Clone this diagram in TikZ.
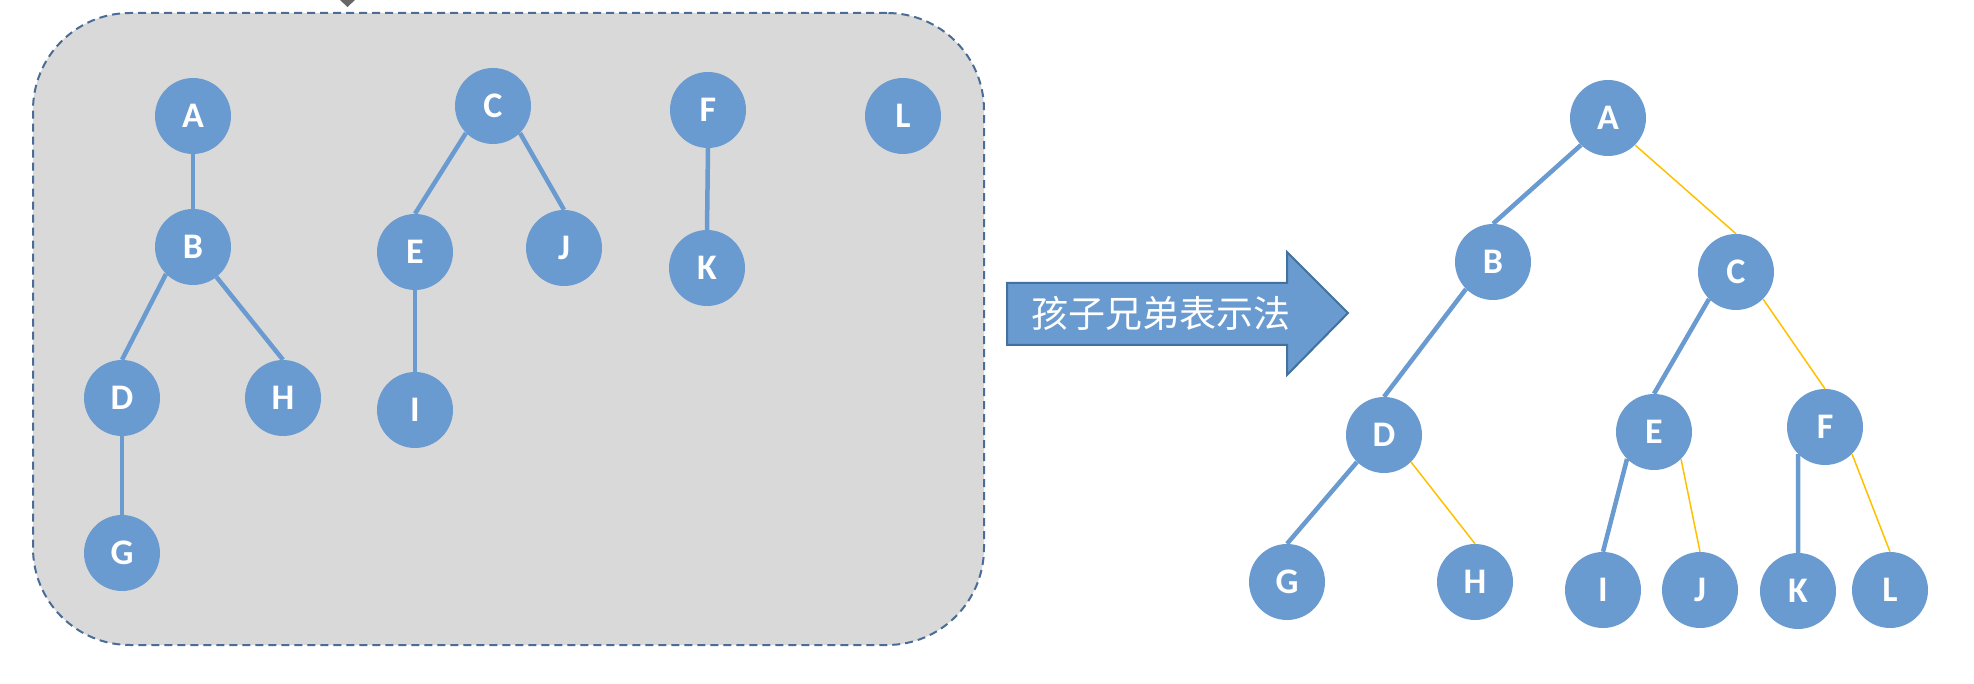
\documentclass[tikz,border=0pt]{standalone}
\usepackage{fontspec}
\setmainfont{Carlito}
\newfontfamily\cjk{Noto Sans CJK SC}
\definecolor{nodeblue}{HTML}{6A9BD0}
\definecolor{edgeblue}{HTML}{6A9BD0}
\definecolor{edgeyellow}{HTML}{FFC000}
\definecolor{panelgray}{HTML}{D9D9D9}
\definecolor{paneledge}{HTML}{4A6C96}
\definecolor{arrowedge}{HTML}{41719C}
\begin{document}
\begin{tikzpicture}[x=1pt,y=-1pt,
  tn/.style={circle, fill=nodeblue, minimum size=76pt, inner sep=0pt, text=white,
    font=\fontsize{36}{36}\selectfont\bfseries},
  be/.style={draw=edgeblue, line width=4.5pt},
  ye/.style={draw=edgeyellow, line width=1.5pt},
  panelbox/.style={draw=paneledge, fill=panelgray, line width=2pt, dash pattern=on 8pt off 5pt,
    rounded corners=97pt, minimum width=951pt, minimum height=632pt, inner sep=0pt},
  bigarrow/.style={fill=nodeblue, draw=arrowedge, line width=2pt, line join=miter}
]
\useasboundingbox (0,0) rectangle (1974,684);
% small marker at top
\fill[gray!80!black] (340,0) -- (355,0) -- (347.5,7) -- cycle;
% panel
\node[panelbox] (panel) at (508.5,329) {};
% left forest (edges first, nodes on top)
\coordinate (cA) at (193,116);
\coordinate (cB) at (193,247);
\coordinate (cD) at (122,398);
\coordinate (cH) at (283,398);
\coordinate (cG) at (122,553);
\coordinate (cC) at (493,106);
\coordinate (cE) at (415,252);
\coordinate (cJ) at (564,248);
\coordinate (cI) at (415,410);
\coordinate (cF) at (708,110);
\coordinate (cK) at (707,268);
\coordinate (cL) at (903,116);
\node[tn] (lA) at (cA) {A};
\node[tn] (lB) at (cB) {B};
\node[tn] (lD) at (cD) {D};
\node[tn] (lH) at (cH) {H};
\node[tn] (lG) at (cG) {G};
\node[tn] (lC) at (cC) {C};
\node[tn] (lE) at (cE) {E};
\node[tn] (lJ) at (cJ) {J};
\node[tn] (lI) at (cI) {I};
\node[tn] (lF) at (cF) {F};
\node[tn] (lK) at (cK) {K};
\node[tn] (lL) at (cL) {L};
\draw[be] (lA.south) -- (lB.north);
\draw[be] (lB.south west) -- (lD.north);
\draw[be] (lB.-52) -- (lH.north);
\draw[be] (lD.south) -- (lG.north);
\draw[be] (lC.south west) -- (lE.north);
\draw[be] (lC.-45) -- (lJ.north);
\draw[be] (lE.south) -- (lI.north);
\draw[be] (lF.south) -- (lK.north);
% arrow
\draw[bigarrow] (1007,283) -- (1287,283) -- (1287,252) -- (1348,313) -- (1287,375) -- (1287,345) -- (1007,345) -- cycle;
\node[text=white, font=\cjk\fontsize{37}{37}\selectfont, inner sep=0pt] (lbl) at (1161,313) {孩子兄弟表示法};
% right binary tree
\node[tn] (rA) at (1608,118) {A};
\node[tn] (rB) at (1493,262) {B};
\node[tn] (rC) at (1736,272) {C};
\node[tn] (rD) at (1384,435) {D};
\node[tn] (rE) at (1654,432) {E};
\node[tn] (rF) at (1825,427) {F};
\node[tn] (rG) at (1287,582) {G};
\node[tn] (rH) at (1475,582) {H};
\node[tn] (rI) at (1603,590) {I};
\node[tn] (rJ) at (1700,590) {J};
\node[tn] (rK) at (1798,591) {K};
\node[tn] (rL) at (1890,590) {L};
\draw[be] (rA.south west) -- (rB.north);
\draw[ye] (rA.south east) -- (rC.north);
\draw[be] (rB.south west) -- (rD.north);
\draw[be] (rC.south west) -- (rE.north);
\draw[ye] (rC.south east) -- (rF.north);
\draw[be] (rD.south west) -- (rG.north);
\draw[ye] (rD.south east) -- (rH.north);
\draw[be] (rE.south west) -- (rI.north);
\draw[ye] (rE.south east) -- (rJ.north);
\draw[be] (rF.south west) -- (rK.north);
\draw[ye] (rF.south east) -- (rL.north);
\end{tikzpicture}
\end{document}
